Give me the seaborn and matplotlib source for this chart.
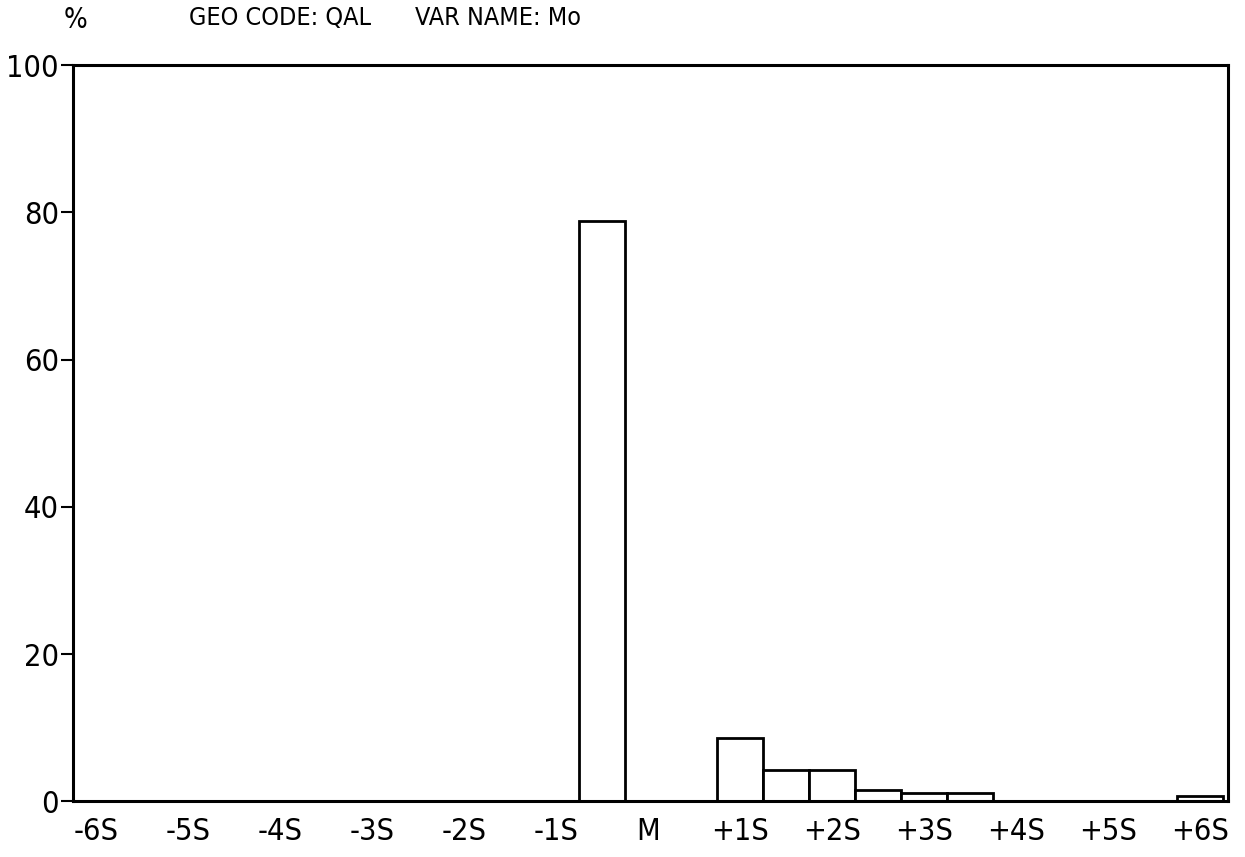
import numpy as np
import pandas as pd
import matplotlib
matplotlib.use("Agg")
import matplotlib.pyplot as plt
import seaborn as sns

# class centres in units of S (standard deviations from the mean)
centres = [-6.0, -5.5, -5.0, -4.5, -4.0, -3.5, -3.0, -2.5, -2.0, -1.5, -1.0, -0.5,
           0.0, 0.5, 1.0, 1.5, 2.0, 2.5, 3.0, 3.5, 4.0, 4.5, 5.0, 5.5, 6.0]
percent = [0.0, 0.0, 0.0, 0.0, 0.0, 0.0, 0.1, 0.1, 0.1, 0.1, 0.1, 78.8,
           0.0, 0.0, 8.6, 4.2, 4.3, 1.5, 1.1, 1.1, 0.0, 0.0, 0.0, 0.0, 0.7]

tick_pos = [-6, -5, -4, -3, -2, -1, 0, 1, 2, 3, 4, 5, 6]
tick_labels = ['-6S', '-5S', '-4S', '-3S', '-2S', '-1S', 'M',
               '+1S', '+2S', '+3S', '+4S', '+5S', '+6S']
y_ticks = [0, 20, 40, 60, 80, 100]

geo_code = "QAL"
var_name = "Mo"

df = pd.DataFrame({'centre': centres, 'pct': percent})

sns.set_style("white")
plt.rcParams['font.family'] = ['DejaVu Sans']
plt.rcParams['font.stretch'] = 'condensed'
plt.rcParams['text.color'] = 'black'
plt.rcParams['xtick.color'] = 'black'
plt.rcParams['ytick.color'] = 'black'

fig = plt.figure(figsize=(12.45, 8.57), dpi=100)
ax = fig.add_axes([0.0586, 0.065, 0.9274, 0.859])

sns.histplot(data=df, x='centre', weights='pct', binwidth=0.5,
             binrange=(-6.25, 6.25), stat='count',
             color='white', edgecolor='black', linewidth=2, alpha=1, ax=ax)

ax.set_xlim(-6.25, 6.3)
ax.set_ylim(0, 100)
ax.set_xticks(tick_pos)
ax.set_xticklabels(tick_labels, fontsize=22, fontstretch='condensed')
ax.set_yticks(y_ticks)
ax.set_yticklabels([str(v) for v in y_ticks], fontsize=22, fontstretch='condensed')
ax.tick_params(axis='x', length=0, pad=11)
ax.tick_params(axis='y', length=9, width=1.5, direction='out', pad=1, left=True)
ax.set_xlabel('')
ax.set_ylabel('')
for s in ax.spines.values():
    s.set_linewidth(2.2)
    s.set_color('black')

fig.text(0.061, 0.993, '%', fontsize=20, ha='center', va='top', fontstretch='condensed')
fig.text(0.152, 0.993, 'GEO CODE: ' + geo_code, fontsize=18, ha='left', va='top',
         fontstretch='condensed')
fig.text(0.333, 0.993, 'VAR NAME: ' + var_name, fontsize=18, ha='left', va='top',
         fontstretch='condensed')

fig.savefig('out.png', dpi=100)
